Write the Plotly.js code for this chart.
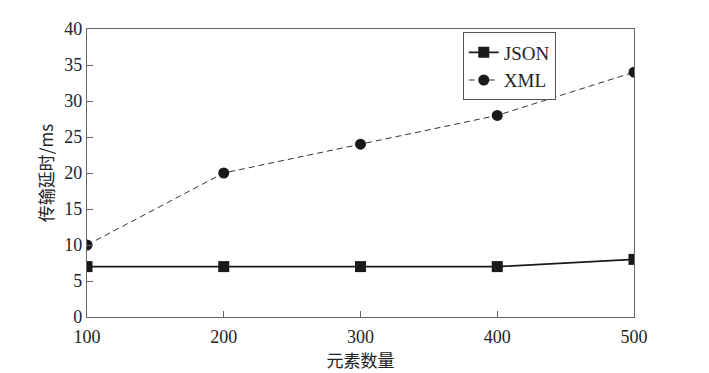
<!DOCTYPE html>
<html><head><meta charset="utf-8">
<script src="https://cdn.plot.ly/plotly-3.0.1.min.js"></script>
<style>html,body{margin:0;padding:0;background:#fff}#c{width:709px;height:373px}</style>
</head><body><div id="c"></div>
<script>
const elementCounts = [100, 200, 300, 400, 500];
const jsonDelay = [7, 7, 7, 7, 8];
const xmlDelay = [10, 20, 24, 28, 34];
const xTitle = '元素数量';
const yTitle = '传输延时/ms';

const serif = '"Liberation Serif", "Times New Roman", serif';
const traces = [
  {x: elementCounts, y: jsonDelay, name: 'JSON', type: 'scatter', mode: 'lines+markers',
   line: {color: '#1a1a1a', width: 1.8, dash: 'solid'},
   marker: {symbol: 'square', size: 11, color: '#1a1a1a'}},
  {x: elementCounts, y: xmlDelay, name: 'XML', type: 'scatter', mode: 'lines+markers',
   line: {color: '#333', width: 1, dash: '6px,4px'},
   marker: {symbol: 'circle', size: 11, color: '#1a1a1a'}}
];
const axisCommon = {showline: true, linecolor: '#666', linewidth: 1.2, mirror: true,
  ticks: 'inside', ticklen: 6, tickcolor: '#666', showgrid: false, zeroline: false,
  tickfont: {family: serif, size: 18, color: '#222'}};
const layout = {
  width: 709, height: 373,
  margin: {l: 87, r: 75, t: 29, b: 56},
  paper_bgcolor: '#fff', plot_bgcolor: '#fff',
  showlegend: true,
  legend: {x: 0.687, y: 0.988, xanchor: 'left', yanchor: 'top', bordercolor: '#555', borderwidth: 1,
    bgcolor: '#fff', font: {family: serif, size: 19, color: '#222'}, tracegroupgap: 0,
    itemwidth: 30},
  xaxis: Object.assign({}, axisCommon, {range: [100, 500], tickvals: elementCounts, ticklabelstandoff: 3,
    title: {text: xTitle, font: {family: '"Noto Sans CJK SC"', size: 17, color: '#222'}, standoff: 0}}),
  yaxis: Object.assign({}, axisCommon, {range: [0, 40], dtick: 5,
    title: {text: yTitle, font: {family: '"Noto Sans CJK SC"', size: 17, color: '#222'}, standoff: 6}})
};
Plotly.newPlot('c', traces, layout, {displayModeBar: false, staticPlot: true});
</script></body></html>
